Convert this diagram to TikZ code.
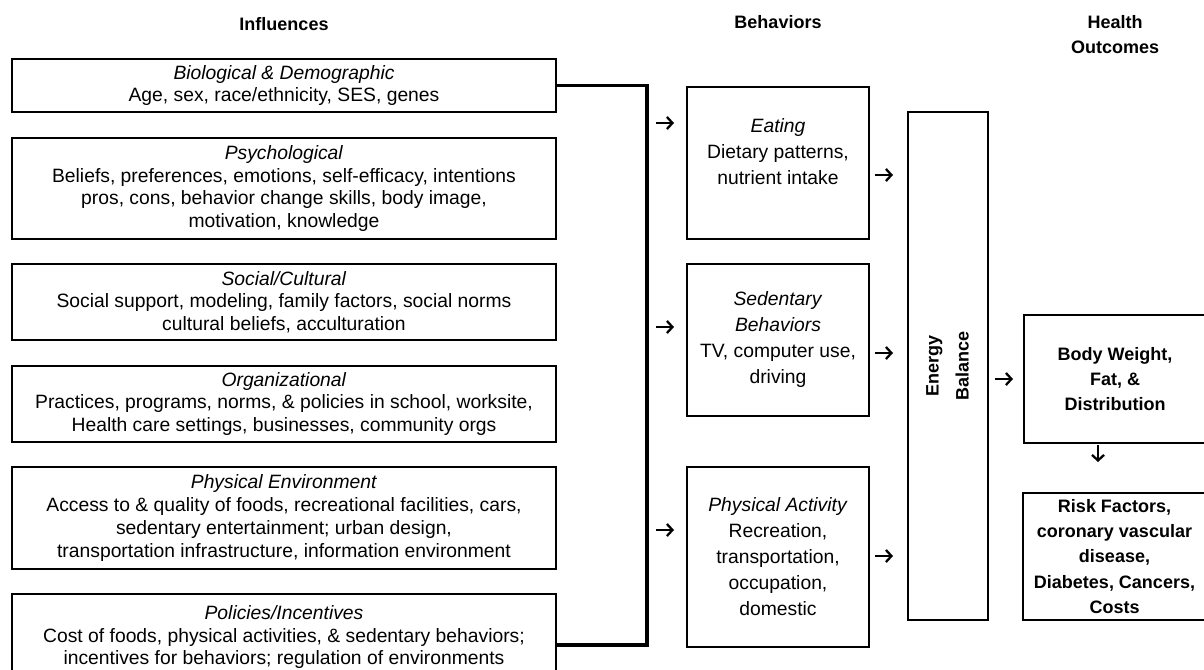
\documentclass[tikz,border=0pt]{standalone}
\usepackage{fontspec}
\setmainfont{Liberation Sans}
\usetikzlibrary{arrows.meta}
\begin{document}
\begin{tikzpicture}[x=1pt,y=1pt,
  box/.style={draw, line width=2pt, inner sep=0pt, align=center,
    font=\fontsize{19.3}{22.7}\selectfont},
  behbox/.style={box, minimum width=182pt, font=\fontsize{19.3}{26}\selectfont},
  outbox/.style={box, font=\bfseries\fontsize{18}{25.3}\selectfont},
  head/.style={align=center, inner sep=0pt, font=\bfseries\fontsize{18}{25}\selectfont},
  sarrow/.style={line width=2.3pt, -{Straight Barb[length=5.5pt,width=12pt,line width=2.3pt]}},
  bracket/.style={line width=3.3pt, line join=miter}
]
\useasboundingbox (0,0) rectangle (1204,-669);
\clip (0,0) rectangle (1204,-669);
\fill[white] (0,0) rectangle (1204,-669);

% headers
\node[head] (hInf) at (284,-24) {Influences};
\node[head] (hBeh) at (778,-22) {Behaviors};
\node[head] (hOut) at (1115,-34.5) {Health\\Outcomes};

% influences
\node[box, minimum width=544pt, minimum height=53pt] (bio) at (284,-85.5)
  {\textit{Biological \& Demographic}\\Age, sex, race/ethnicity, SES, genes};
\node[box, minimum width=544pt, minimum height=101pt] (psy) at (284,-188.5)
  {\textit{Psychological}\\Beliefs, preferences, emotions, self-efficacy, intentions\\pros, cons, behavior change skills, body image,\\motivation, knowledge};
\node[box, minimum width=544pt, minimum height=76pt] (soc) at (284,-302)
  {\textit{Social/Cultural}\\Social support, modeling, family factors, social norms\\cultural beliefs, acculturation};
\node[box, minimum width=544pt, minimum height=76pt] (org) at (284,-404)
  {\textit{Organizational}\\Practices, programs, norms, \& policies in school, worksite,\\Health care settings, businesses, community orgs};
\node[box, minimum width=544pt, minimum height=102pt] (env) at (284,-518)
  {\textit{Physical Environment}\\Access to \& quality of foods, recreational facilities, cars,\\sedentary entertainment; urban design,\\transportation infrastructure, information environment};
\node[box, minimum width=544pt, minimum height=102pt] (pol) at (284,-645)
  {\textit{Policies/Incentives}\\Cost of foods, physical activities, \& sedentary behaviors;\\incentives for behaviors; regulation of environments\\[-3pt]\mbox{}};

% bracket
\coordinate (bt) at (647,-85.5);
\coordinate (bb) at (647,-645);
\draw[bracket] (bio.east) -- (bt) -- (bb) -- (pol.east);

% behaviors
\node[behbox, minimum height=152pt] (eat) at (778,-163)
  {\textit{Eating}\\Dietary patterns,\\nutrient intake\\[-4pt]\mbox{}};
\node[behbox, minimum height=152pt] (sed) at (778,-340)
  {\textit{Sedentary}\\\textit{Behaviors}\\TV, computer use,\\driving};
\node[behbox, minimum height=180pt] (pa) at (778,-557)
  {\textit{Physical Activity}\\Recreation,\\transportation,\\occupation,\\domestic};

% energy balance
\node[box, rotate=90, minimum width=508pt, minimum height=80pt,
  font=\bfseries\fontsize{18}{30}\selectfont] (en) at (947.5,-366) {Energy\\Balance};

% outcomes
\node[outbox, minimum width=182pt, minimum height=128pt] (bw) at (1115,-379)
  {Body Weight,\\Fat, \&\\Distribution};
\node[outbox, minimum width=183pt, minimum height=127pt] (risk) at (1114.5,-556.5)
  {Risk Factors,\\coronary vascular\\disease,\\Diabetes, Cancers,\\Costs};

% arrows
\coordinate (a1s) at (656,-123); \coordinate (a1e) at (674,-123);
\coordinate (a2s) at (656,-327); \coordinate (a2e) at (674,-327);
\coordinate (a3s) at (656,-530); \coordinate (a3e) at (674,-530);
\coordinate (b1s) at (875,-175); \coordinate (b1e) at (893,-175);
\coordinate (b2s) at (875,-353); \coordinate (b2e) at (893,-353);
\coordinate (b3s) at (875,-556); \coordinate (b3e) at (893,-556);
\coordinate (c1s) at (995,-379); \coordinate (c1e) at (1013,-379);
\coordinate (d1s) at (1098,-445); \coordinate (d1e) at (1098,-462);
\foreach \p in {a1,a2,a3,b1,b2,b3,c1,d1}
  \draw[sarrow] (\p s) -- (\p e);
\end{tikzpicture}
\end{document}
